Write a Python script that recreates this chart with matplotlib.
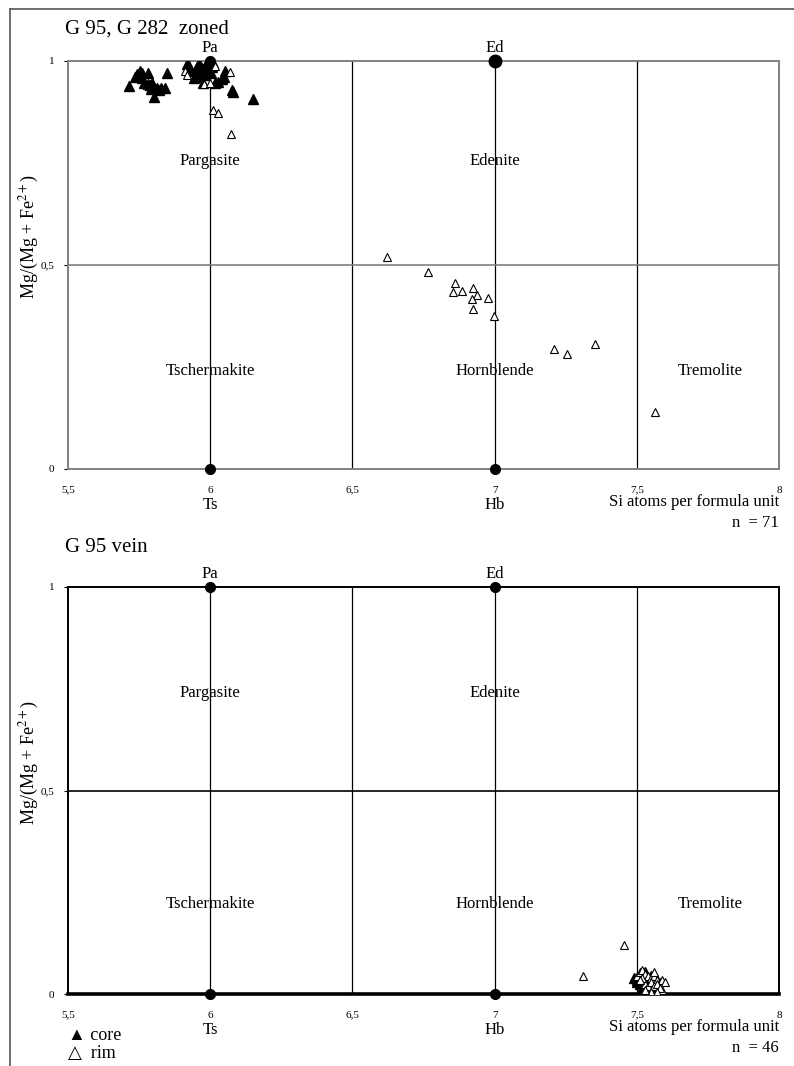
import matplotlib
matplotlib.use("Agg")
import matplotlib.pyplot as plt
from matplotlib.lines import Line2D
import numpy as np

plt.rcParams['font.family'] = ['Liberation Serif', 'DejaVu Sans']
plt.rcParams['mathtext.fontset'] = 'stix'

# end-member corners and field names
corner_pts = {"Pa": (6.0, 1.0), "Ed": (7.0, 1.0), "Ts": (6.0, 0.0), "Hb": (7.0, 0.0)}
field_names = ["Pargasite", "Edenite", "Tschermakite", "Hornblende", "Tremolite"]
x_ticks = [5.5, 6, 6.5, 7, 7.5, 8]
x_tick_labels = ["5,5", "6", "6,5", "7", "7,5", "8"]
y_ticks = [0, 0.5, 1]
y_tick_labels = ["0", "0,5", "1"]

# G 95, G 282 zoned - cores
zoned_core_si = [5.714, 5.736, 5.744, 5.753, 5.759, 5.780, 5.768, 5.782, 5.796, 5.791,
                 5.803, 5.812, 5.826, 5.841, 5.847, 5.919, 5.927, 5.943, 5.962, 5.970,
                 5.976, 5.985, 5.991, 5.997, 6.017, 6.028, 6.049, 6.052, 6.076, 6.079,
                 6.152, 5.990, 6.000, 6.005, 5.995, 5.980, 5.965, 5.955, 6.010, 5.930,
                 5.760, 5.790, 5.820, 5.950, 6.003, 6.040, 5.998]
zoned_core_mg = [0.939, 0.962, 0.968, 0.976, 0.971, 0.971, 0.945, 0.943, 0.947, 0.931,
                 0.911, 0.935, 0.935, 0.935, 0.971, 0.993, 0.988, 0.958, 0.996, 0.970,
                 0.945, 0.990, 0.982, 1.000, 0.947, 0.949, 0.960, 0.976, 0.929, 0.925,
                 0.907, 0.997, 0.993, 0.985, 0.975, 0.965, 0.978, 0.985, 0.995, 0.975,
                 0.958, 0.940, 0.930, 0.960, 0.970, 0.955, 0.988]
# G 95, G 282 zoned - rims
zoned_rim_si = [5.911, 5.918, 6.017, 6.070, 5.979, 5.999, 6.011, 6.028, 6.073,
                6.623, 6.767, 6.861, 6.855, 6.884, 6.925, 6.937, 6.920, 6.978, 6.923,
                6.999, 7.210, 7.254, 7.352, 7.564]
zoned_rim_mg = [0.976, 0.966, 0.988, 0.972, 0.943, 0.947, 0.880, 0.873, 0.820,
                0.520, 0.484, 0.455, 0.433, 0.436, 0.443, 0.426, 0.417, 0.418, 0.391,
                0.375, 0.293, 0.281, 0.306, 0.140]

# G 95 vein - cores
vein_core_si = [7.49, 7.50, 7.51, 7.52, 7.52, 7.53, 7.53, 7.54, 7.54, 7.55,
                7.55, 7.56, 7.56, 7.57, 7.51, 7.52, 7.53, 7.54, 7.55, 7.50]
vein_core_mg = [0.040, 0.035, 0.045, 0.030, 0.050, 0.040, 0.020, 0.035, 0.010, 0.025,
                0.045, 0.030, 0.015, 0.035, 0.025, 0.015, 0.055, 0.005, 0.010, 0.030]
# G 95 vein - rims
vein_rim_si = [7.31, 7.455, 7.50, 7.51, 7.52, 7.53, 7.54, 7.55, 7.56, 7.57,
               7.58, 7.59, 7.60, 7.59, 7.53, 7.54, 7.55, 7.56, 7.57, 7.52,
               7.51, 7.58, 7.55, 7.53, 7.57, 7.56]
vein_rim_mg = [0.043, 0.120, 0.045, 0.055, 0.060, 0.050, 0.045, 0.040, 0.045, 0.035,
               0.030, 0.035, 0.030, 0.010, 0.025, 0.020, 0.030, 0.020, 0.025, 0.040,
               0.035, 0.015, 0.005, 0.010, 0.005, 0.055]


def draw_panel(ax, title, title_y, n, core_x, core_y, rim_x, rim_y, frame_col, grid_col,
               thick_base, field_y):
    ax.set_xlim(5.5, 8)
    ax.set_ylim(0, 1)
    for v in [6, 6.5, 7, 7.5]:
        ax.axvline(v, color='black', lw=0.9, zorder=1)
    ax.axhline(0.5, color=grid_col, lw=1.2, zorder=1)
    for s in ax.spines.values():
        s.set_color(frame_col)
        s.set_linewidth(1.4)
    if thick_base:
        ax.spines['bottom'].set_linewidth(2.6)
        ax.spines['bottom'].set_color('black')

    ax.set_xticks(x_ticks)
    ax.set_xticklabels(x_tick_labels, fontsize=8)
    ax.set_yticks(y_ticks)
    ax.set_yticklabels(y_tick_labels, fontsize=8)
    ax.tick_params(axis='x', length=0, pad=12)
    ax.tick_params(axis='y', length=3, width=0.8, direction='out', pad=7)

    ax.plot(core_x, core_y, linestyle='none', marker='^', ms=6.5, color='black', zorder=4)
    ax.plot(rim_x, rim_y, linestyle='none', marker='^', ms=6, mfc='white', mec='black',
            mew=0.8, zorder=5)

    for name, (cx, cy) in corner_pts.items():
        ms = 9 if name == "Ed" and not thick_base else 7
        ax.plot(cx, cy, marker='o', ms=ms, color='black', zorder=6, clip_on=False)
        ty = 1.031 if cy == 1 else -0.088
        ax.text(cx, ty, name, ha='center', va='center', fontsize=12, clip_on=False)

    fx = [6.0, 7.0, 6.0, 7.0, 7.76]
    fy = [field_y[0], field_y[0], field_y[1], field_y[1], field_y[1]]
    for name, x, y in zip(field_names, fx, fy):
        ax.text(x, y, name, ha='center', va='center', fontsize=12, zorder=7)

    ax.text(8.0, -0.082, "Si atoms per formula unit", ha='right', va='center', fontsize=12,
            clip_on=False)
    ax.text(8.0, -0.132, "n  = %d" % n, ha='right', va='center', fontsize=12, clip_on=False)
    ax.text(5.49, title_y, title, ha='left', va='center', fontsize=15, clip_on=False)
    ax.text(-0.054, 0.57, r"Mg/(Mg + Fe$^{2+}$)", rotation=90, ha='center', va='center',
            fontsize=13, transform=ax.transAxes, clip_on=False)


fig = plt.figure(figsize=(7.94, 10.66), dpi=100)

ax1 = fig.add_axes([68 / 794, 1 - 469 / 1066, 711 / 794, 408 / 1066])
draw_panel(ax1, "G 95, G 282  zoned", 1.078, 71, zoned_core_si, zoned_core_mg, zoned_rim_si,
           zoned_rim_mg, '#808080', '#808080', False, (0.755, 0.24))

ax2 = fig.add_axes([68 / 794, 1 - 994 / 1066, 711 / 794, 407 / 1066])
draw_panel(ax2, "G 95 vein", 1.098, 46, vein_core_si, vein_core_mg, vein_rim_si, vein_rim_mg,
           'black', 'black', True, (0.74, 0.222))

# legend text under the lower panel
fig.text(68 / 794, 1 - 1035 / 1066, "▲ core", fontsize=13, ha='left', va='center')
fig.text(68 / 794, 1 - 1053 / 1066, "△  rim", fontsize=13, ha='left', va='center')

# outer frame
fig.add_artist(Line2D([10 / 794, 1], [1 - 9 / 1066, 1 - 9 / 1066], color='#555555', lw=1.2))
fig.add_artist(Line2D([10 / 794, 10 / 794], [0, 1 - 9 / 1066], color='#555555', lw=1.2))

fig.savefig("out.png", dpi=100)
